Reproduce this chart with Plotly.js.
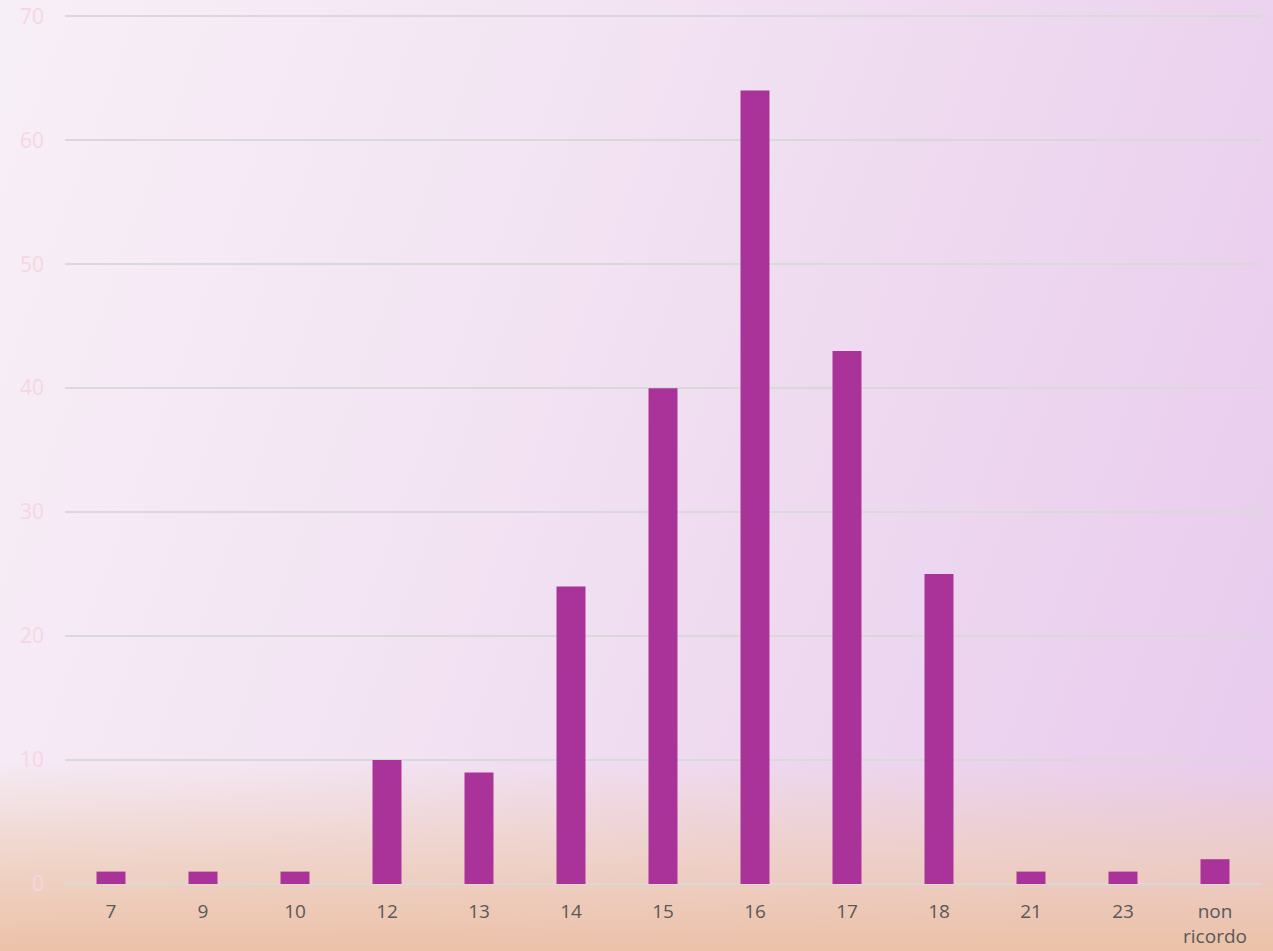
<!DOCTYPE html>
<html>
<head>
<meta charset="utf-8">
<script src="https://cdn.plot.ly/plotly-3.0.1.min.js"></script>
<style>
html,body{margin:0;padding:0;}
#bg{position:absolute;left:0;top:0;width:1273px;height:951px;
 background:
  linear-gradient(to bottom, rgba(240,200,180,0) 0%, rgba(240,200,180,0) 80%, rgba(238,205,185,0.7) 90%, rgba(236,194,168,1) 100%),
  linear-gradient(110deg, #f7eff7 0%, #f3e5f3 35%, #edd6ef 70%, #e8caee 100%);}
#chart{position:absolute;left:0;top:0;width:1273px;height:951px;}
</style>
</head>
<body>
<div id="bg"></div>
<div id="chart"></div>
<script>
var categories = ["7","9","10","12","13","14","15","16","17","18","21","23","non<br>ricordo"];
var values = [1,1,1,10,9,24,40,64,43,25,1,1,2];
var yTicks = [0,10,20,30,40,50,60,70];

Plotly.newPlot('chart', [{
  type: 'bar',
  x: categories,
  y: values,
  marker: {color: '#aa3399'},
  hoverinfo: 'x+y'
}], {
  width: 1273, height: 951,
  margin: {l: 65, r: 12, t: 15, b: 67},
  paper_bgcolor: 'rgba(0,0,0,0)',
  plot_bgcolor: 'rgba(0,0,0,0)',
  bargap: 0.685,
  showlegend: false,
  font: {family: '"Open Sans", sans-serif'},
  xaxis: {
    type: 'category',
    tickfont: {size: 19, color: '#595959'},
    showgrid: false,
    showline: false,
    ticks: '',
    ticklabelstandoff: 14,
    zeroline: false
  },
  yaxis: {
    range: [0, 70.1],
    tickvals: yTicks,
    tickfont: {size: 21, color: '#f7d6e0'},
    gridcolor: '#d9d9d9',
    gridwidth: 1.5,
    zeroline: true,
    zerolinecolor: '#d9d9d9',
    zerolinewidth: 1.5,
    showline: false,
    ticks: '',
    ticklabelstandoff: 20
  }
}, {displayModeBar: false, staticPlot: true});
</script>
</body>
</html>
